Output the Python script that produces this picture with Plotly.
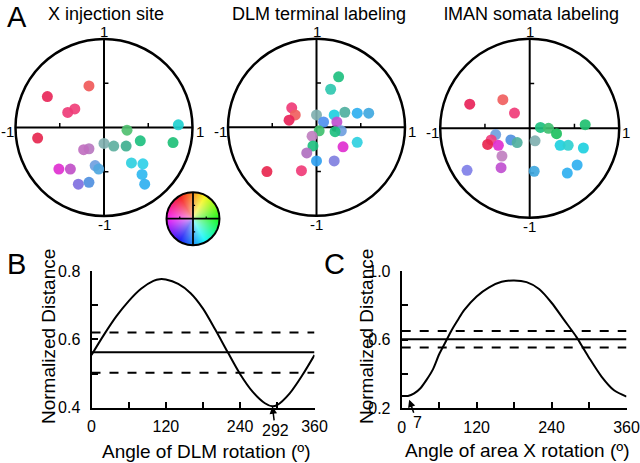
import colorsys
import numpy as np
import plotly.graph_objects as go

W, H = 640, 463
OFF = 0  # body margin removed through post_script below
FONT = "Liberation Sans, Arial, Helvetica, sans-serif"

# ---------------- Panel A data (unit-circle coordinates) ----------------
xsite_x = [-0.17, -0.64, -0.33, -0.41, -0.75, 0.26, 0.84, 0.41, 0.78, 0.00, 0.11, 0.25,
           -0.17, -0.23, 0.31, 0.44, -0.10, -0.06, -0.51, -0.38, 0.43, 0.46, -0.29, -0.17]
xsite_y = [0.47, 0.35, 0.21, 0.17, -0.12, -0.03, 0.03, -0.15, -0.17, -0.18, -0.21, -0.21,
           -0.24, -0.25, -0.40, -0.41, -0.43, -0.47, -0.47, -0.47, -0.53, -0.64, -0.64, -0.62]
xsite_col = ["#f05a5a", "#e8285a", "#f0407a", "#ee3c78", "#e62850", "#50c070", "#20d0d0",
             "#20c080", "#20c078", "#80b0b0", "#60b0a0", "#40b090", "#b878c0", "#c070c0",
             "#30d0e0", "#30d0e8", "#70a0e0", "#50a8e0", "#e030d0", "#c050c8", "#30b8f0",
             "#30b0f0", "#8070e0", "#5090e0"]

dlm_x = [0.21, 0.25, 0.16, -0.28, -0.24, -0.31, 0.00, 0.08, 0.20, 0.32, 0.46, 0.59, 0.23,
         0.28, 0.21, 0.03, -0.05, -0.04, -0.11, 0.30, 0.46, 0.00, 0.20, -0.17, -0.56]
dlm_y = [-0.01, 0.57, 0.43, 0.22, 0.14, 0.08, 0.14, 0.06, 0.14, 0.17, 0.16, 0.16, 0.06,
         -0.04, -0.05, -0.04, -0.10, -0.21, -0.29, -0.22, -0.17, -0.38, -0.38, -0.49, -0.50]
dlm_col = ["#000000", "#20c080", "#30c8b0", "#f03c78", "#f06060", "#e8245a", "#80b0b0",
           "#5090f0", "#20d0e0", "#50b0a0", "#30b0f0", "#40a8e0", "#c050d0", "#70a0e0",
           "#20c080", "#40c070", "#c080c0", "#20c080", "#b070c0", "#e030d0", "#30d0e0",
           "#30a0f0", "#8080e0", "#f03c78", "#e82850"]

lman_x = [-0.67, -0.30, -0.17, 0.12, 0.21, 0.30, 0.62, -0.38, -0.43, -0.47, -0.35, -0.21,
          -0.14, 0.06, 0.34, 0.43, 0.60, -0.31, -0.32, -0.70, 0.05, 0.53, 0.42]
lman_y = [0.27, 0.32, 0.17, 0.01, 0.00, -0.06, 0.04, -0.07, -0.13, -0.18, -0.19, -0.13,
          -0.16, -0.14, -0.19, -0.19, -0.22, -0.31, -0.44, -0.47, -0.48, -0.41, -0.50]
lman_col = ["#e8245a", "#f06060", "#f03c78", "#20c080", "#40c070", "#20c060", "#20c070",
            "#70a0e0", "#f04080", "#e82850", "#e030d0", "#5090e0", "#50b0a0", "#80b0b0",
            "#20d0e0", "#30d0d0", "#20d0e0", "#c080c0", "#c050d0", "#8080e8", "#40a8e0",
            "#30b0f0", "#30b0f0"]

circle_titles = ["X injection site", "DLM terminal labeling", "lMAN somata labeling"]

# ---------------- Panel B data ----------------
dlm_angle = [0, 20, 40, 60, 80, 100, 110, 120, 140, 160, 180, 200, 220, 240, 260, 280, 292,
             300, 320, 340, 360]
dlm_dist = [0.554, 0.613, 0.667, 0.712, 0.748, 0.771, 0.776, 0.775, 0.762, 0.735, 0.69,
            0.628, 0.562, 0.498, 0.447, 0.413, 0.404, 0.408, 0.442, 0.494, 0.554]
dlm_mean, dlm_upper, dlm_lower = 0.562, 0.620, 0.502
dlm_best = 292

# ---------------- Panel C data ----------------
ax_angle = [0, 10, 20, 30, 40, 50, 60, 70, 80, 90, 100, 120, 140, 160, 180, 200, 220,
            240, 260, 280, 290, 300, 320, 340, 360]
ax_dist = [0.272, 0.272, 0.287, 0.317, 0.367, 0.427, 0.515, 0.585, 0.655, 0.715, 0.772,
           0.852, 0.905, 0.937, 0.945, 0.935, 0.895, 0.815, 0.715, 0.615, 0.555, 0.495,
           0.385, 0.305, 0.268]
ax_mean, ax_upper, ax_lower = 0.603, 0.651, 0.554
ax_best = 7

# ---------------- helpers ----------------
def px(x):
    return (x - OFF) / W


def py(y):
    return 1 - (y - OFF) / H


def circle_axes(cx, cy, r, pad):
    left = max(cx - r * pad, OFF)
    right = min(cx + r * pad, W + OFF)
    top = max(cy - r * pad, OFF)
    bottom = min(cy + r * pad, H + OFF)
    xd = [px(left), px(right)]
    yd = [py(bottom), py(top)]
    xr = [(left - cx) / r, (right - cx) / r]
    yr = [(cy - bottom) / r, (cy - top) / r]
    return xd, xr, yd, yr


fig = go.Figure()
shapes, annotations = [], []
PAD = 1.12

circles = [  # (cx, cy, r) in pixels
    (104.0, 127.5, 88.5),
    (316.5, 127.3, 88.5),
    (529.7, 128.3, 89.5),
]
datasets = [(xsite_x, xsite_y, xsite_col), (dlm_x, dlm_y, dlm_col), (lman_x, lman_y, lman_col)]

layout_axes = {}
for i, ((cx, cy, r), (xs, ys, cols), title) in enumerate(zip(circles, datasets, circle_titles)):
    n = i + 1
    xa = "x" if n == 1 else f"x{n}"
    ya = "y" if n == 1 else f"y{n}"
    xd, xr, yd, yr = circle_axes(cx, cy, r, PAD)
    layout_axes["xaxis" if n == 1 else f"xaxis{n}"] = dict(
        domain=xd, range=xr, visible=False, anchor=ya, fixedrange=True, automargin=False)
    layout_axes["yaxis" if n == 1 else f"yaxis{n}"] = dict(
        domain=yd, range=yr, visible=False, anchor=xa, fixedrange=True, automargin=False)
    shapes.append(dict(type="circle", xref=xa, yref=ya, x0=-1, y0=-1, x1=1, y1=1,
                       line=dict(color="black", width=2.5), layer="below"))
    shapes.append(dict(type="line", xref=xa, yref=ya, x0=-1, y0=0, x1=1, y1=0,
                       line=dict(color="black", width=2), layer="below"))
    shapes.append(dict(type="line", xref=xa, yref=ya, x0=0, y0=-1, x1=0, y1=1,
                       line=dict(color="black", width=2), layer="below"))
    for t in (-0.5, 0.5):
        shapes.append(dict(type="line", xref=xa, yref=ya, x0=t, y0=0, x1=t, y1=0.05,
                           line=dict(color="black", width=1.5), layer="below"))
        shapes.append(dict(type="line", xref=xa, yref=ya, x0=0, y0=t, x1=0.05, y1=t,
                           line=dict(color="black", width=1.5), layer="below"))
    sizes = [7 if c == "#000000" else 11 for c in cols]
    fig.add_trace(go.Scatter(x=xs, y=ys, mode="markers", xaxis=xa, yaxis=ya,
                             marker=dict(color=cols, size=sizes, opacity=0.92,
                                         line=dict(width=0)),
                             hoverinfo="skip", showlegend=False))
    lab = dict(xref=xa, yref=ya, showarrow=False, borderpad=0,
               font=dict(family=FONT, size=15, color="black"))
    annotations += [
        dict(lab, x=0, y=1, text="1", xanchor="center", yanchor="bottom", yshift=-2),
        dict(lab, x=0, y=-1, text="-1", xanchor="center", yanchor="top", yshift=1),
        dict(lab, x=-1, y=0, text="-1", xanchor="right", yanchor="middle", yshift=-4),
        dict(lab, x=1, y=0, text="1", xanchor="left", yanchor="middle", xshift=2, yshift=-4),
    ]
    annotations.append(dict(xref="paper", yref="paper", x=px(cx + 2), y=py(14), text=title,
                            xanchor="center", yanchor="middle", showarrow=False, borderpad=0,
                            font=dict(family=FONT, size=18, color="black")))

# ---------------- colour wheel key ----------------
N = 54
wcx, wcy, wr = 193.0, 218.7, 26.5
img = np.zeros((N, N, 4))
for i in range(N):
    for j in range(N):
        dx = (j + 0.5) / N * 2 - 1
        dy = (i + 0.5) / N * 2 - 1
        rr = (dx * dx + dy * dy) ** 0.5
        if rr <= 1.0:
            ang = np.degrees(np.arctan2(-dy, dx))
            hue = ((120 - ang) % 360) / 360.0
            r_, g_, b_ = colorsys.hsv_to_rgb(hue, 0.3 + 0.6 * rr, 0.97)
            img[i, j] = [r_ * 255, g_ * 255, b_ * 255, 1.0]
WP = 1.15
fig.add_trace(go.Image(z=img, colormodel="rgba", x0=-1 + 1 / N, dx=2 / N, y0=-1 + 1 / N,
                       dy=2 / N, xaxis="x6", yaxis="y6", hoverinfo="skip"))
layout_axes["xaxis6"] = dict(domain=[px(wcx - wr * WP), px(wcx + wr * WP)], range=[-WP, WP],
                             visible=False, anchor="y6", fixedrange=True, automargin=False)
layout_axes["yaxis6"] = dict(domain=[py(wcy + wr * WP), py(wcy - wr * WP)], range=[WP, -WP],
                             visible=False, anchor="x6", fixedrange=True, automargin=False)
shapes += [
    dict(type="circle", xref="x6", yref="y6", x0=-1, y0=-1, x1=1, y1=1,
         line=dict(color="black", width=2)),
    dict(type="line", xref="x6", yref="y6", x0=-1, y0=0, x1=1, y1=0,
         line=dict(color="black", width=1.8)),
    dict(type="line", xref="x6", yref="y6", x0=0, y0=-1, x1=0, y1=1,
         line=dict(color="black", width=1.8)),
]
for t in (-0.5, 0.5):
    shapes.append(dict(type="line", xref="x6", yref="y6", x0=t, y0=0, x1=t, y1=-0.08,
                       line=dict(color="black", width=1.2)))
    shapes.append(dict(type="line", xref="x6", yref="y6", x0=0, y0=t, x1=0.08, y1=t,
                       line=dict(color="black", width=1.2)))

# ---------------- panels B and C ----------------
line_panels = [
    ("x4", "y4", dlm_angle, dlm_dist, dlm_mean, dlm_upper, dlm_lower,
     (91.5, 314.5), (271.0, 407.7), [0.4, 0.8], [0.4, 0.6, 0.8], [0.5, 0.7]),
    ("x5", "y5", ax_angle, ax_dist, ax_mean, ax_upper, ax_lower,
     (401.7, 626.5), (271.0, 408.3), [0.2, 1.0], [0.2, 0.6, 1.0], [0.4, 0.8]),
]
for (xa, ya, ang, dist, mean, up, lo, (x0p, x1p), (y0p, y1p), yr, ytv, ymn) in line_panels:
    for val, dash in ((up, "dash"), (mean, "solid"), (lo, "dash")):
        fig.add_trace(go.Scatter(x=[0, 360], y=[val, val], mode="lines", xaxis=xa, yaxis=ya,
                                 line=dict(color="black", width=2, dash=dash),
                                 hoverinfo="skip", showlegend=False))
    fig.add_trace(go.Scatter(x=ang, y=dist, mode="lines", xaxis=xa, yaxis=ya,
                             line=dict(color="black", width=2, shape="spline", smoothing=0.8),
                             hoverinfo="skip", showlegend=False, cliponaxis=False))
    k = xa[1:]
    layout_axes[f"xaxis{k}"] = dict(
        domain=[px(x0p), px(x1p)], range=[0, 360], anchor=ya, showline=True, linewidth=2,
        linecolor="black", ticks="inside", ticklen=6, tickwidth=1.5, tickcolor="black",
        tickvals=[0, 120, 240, 360], ticktext=["0", "120", "240", "360"],
        minor=dict(tickvals=[60, 180, 300], ticks="inside", ticklen=6, tickwidth=1.5,
                   tickcolor="black", showgrid=False),
        showgrid=False, zeroline=False, fixedrange=True, ticklabelstandoff=3,
        automargin=False, tickfont=dict(family=FONT, size=16, color="black"))
    layout_axes[f"yaxis{k}"] = dict(
        domain=[py(y1p), py(y0p)], range=yr, anchor=xa, showline=True, linewidth=2,
        linecolor="black", ticks="inside", ticklen=6, tickwidth=1.5, tickcolor="black",
        tickvals=ytv, ticktext=[f"{v:.1f}" for v in ytv],
        minor=dict(tickvals=ymn, ticks="inside", ticklen=6, tickwidth=1.5,
                   tickcolor="black", showgrid=False),
        showgrid=False, zeroline=False, fixedrange=True, ticklabelstandoff=6,
        automargin=False, tickfont=dict(family=FONT, size=16, color="black"))

annotations += [
    dict(xref="x4", yref="y4", x=dlm_best, y=0.404, text=str(dlm_best), showarrow=True,
         ax=3, ay=24, arrowhead=2, arrowsize=1, arrowwidth=1.5, arrowcolor="black",
         font=dict(family=FONT, size=16, color="black")),
    dict(xref="x5", yref="y5", x=ax_best + 5, y=0.25, text=str(ax_best), showarrow=True,
         ax=8, ay=23, arrowhead=2, arrowsize=1, arrowwidth=1.5, arrowcolor="black",
         font=dict(family=FONT, size=16, color="black")),
]

big = dict(family=FONT, size=29, color="black")
mid = dict(family=FONT, size=19, color="black")
for txt, x, y in (("A", 16.7, 17), ("B", 16, 264), ("C", 334, 264)):
    annotations.append(dict(xref="paper", yref="paper", x=px(x), y=py(y), text=txt,
                            xanchor="center", yanchor="middle", showarrow=False, font=big))
annotations += [
    dict(xref="paper", yref="paper", x=px(48), y=py(337), text="Normalized Distance",
         textangle=-90, xanchor="center", yanchor="middle", showarrow=False, font=mid),
    dict(xref="paper", yref="paper", x=px(366), y=py(337), text="Normalized Distance",
         textangle=-90, xanchor="center", yanchor="middle", showarrow=False, font=mid),
    dict(xref="paper", yref="paper", x=px(206), y=py(451), text="Angle of DLM rotation (º)",
         xanchor="center", yanchor="middle", showarrow=False, font=mid),
    dict(xref="paper", yref="paper", x=px(517), y=py(450), text="Angle of area X rotation (º)",
         xanchor="center", yanchor="middle", showarrow=False, font=mid),
]

fig.update_layout(
    template="none",
    width=W, height=H, margin=dict(l=0, r=0, t=0, b=0, pad=0), autosize=False,
    paper_bgcolor="white", plot_bgcolor="rgba(0,0,0,0)",
    showlegend=False, shapes=shapes, annotations=annotations,
    font=dict(family=FONT, color="black"),
    **layout_axes,
)

fig.write_html("out.html", config={"displayModeBar": False},
               post_script="document.body.style.margin='0px';")
